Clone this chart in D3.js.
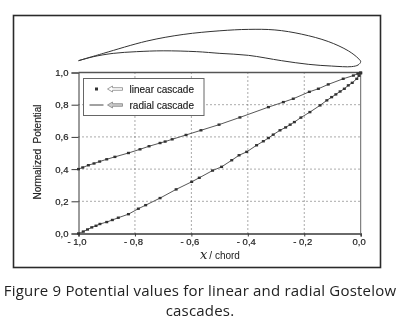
<!DOCTYPE html>
<html>
<head>
<meta charset="utf-8">
<script src="https://cdn.jsdelivr.net/npm/d3@7"></script>
<style>
  html, body { margin: 0; padding: 0; background: #fff; }
  svg { display: block; }
  text { fill: #222; font-family: "Liberation Sans", Arial, sans-serif; }
  .caption { font-family: "Open Sans", sans-serif; font-size: 15px; fill: #222; letter-spacing: 0.2px; }
</style>
</head>
<body>
<div id="chart"></div>
<script>
const xTicks = [-1, -0.8, -0.6, -0.4, -0.2, 0];
const yTicks = [0, 0.2, 0.4, 0.6, 0.8, 1];

// radial cascade
const radialX = [-1, -0.985, -0.965, -0.945, -0.925, -0.9, -0.871, -0.823, -0.782, -0.75, -0.711, -0.693, -0.668, -0.619, -0.566, -0.502, -0.428, -0.327, -0.274, -0.239, -0.182, -0.15, -0.115, -0.062, -0.026, -0.01, 0];
const radialY = [0.4, 0.41, 0.424, 0.435, 0.447, 0.461, 0.476, 0.5, 0.523, 0.542, 0.562, 0.571, 0.585, 0.612, 0.641, 0.676, 0.721, 0.785, 0.816, 0.837, 0.88, 0.899, 0.926, 0.961, 0.981, 0.993, 1];

// linear cascade
const linearX = [-1, -0.983, -0.968, -0.953, -0.938, -0.924, -0.9, -0.88, -0.859, -0.823, -0.788, -0.762, -0.711, -0.654, -0.599, -0.572, -0.525, -0.493, -0.457, -0.431, -0.404, -0.369, -0.345, -0.327, -0.31, -0.286, -0.266, -0.25, -0.235, -0.212, -0.18, -0.144, -0.12, -0.103, -0.088, -0.073, -0.058, -0.044, -0.03, -0.014, -0.006, 0];
const linearY = [0, 0.012, 0.025, 0.038, 0.048, 0.059, 0.071, 0.084, 0.098, 0.12, 0.154, 0.176, 0.22, 0.274, 0.321, 0.346, 0.391, 0.414, 0.455, 0.486, 0.507, 0.548, 0.573, 0.593, 0.614, 0.641, 0.659, 0.676, 0.692, 0.72, 0.754, 0.796, 0.827, 0.847, 0.864, 0.882, 0.899, 0.92, 0.936, 0.961, 0.98, 0.995];

// blade profile, in chord units
const profileX = [-1, -0.912, -0.758, -0.629, -0.499, -0.398, -0.304, -0.209, -0.115, -0.044, -0.009, 0, -0.009, -0.032, -0.103, -0.186, -0.28, -0.398, -0.499, -0.581, -0.7, -0.794, -0.877, -0.948, -1];
const profileY = [0, 0.026, 0.0695, 0.093, 0.106, 0.111, 0.109, 0.094, 0.068, 0.035, 0.0085, -0.0035, -0.015, -0.021, -0.019, -0.0128, 0, 0.019, 0.026, 0.032, 0.035, 0.032, 0.026, 0.014, 0];

const legendLabels = ["linear cascade", "radial cascade"];
const captionLines = ["Figure 9 Potential values for linear and radial Gostelow", "cascades."];

const WIDTH = 410, HEIGHT = 325;
const ink = "#3a3a3a";

const svg = d3.select("#chart").append("svg")
    .attr("width", WIDTH)
    .attr("height", HEIGHT);

// scan softness
svg.append("defs").append("filter")
    .attr("id", "soft")
    .append("feGaussianBlur")
    .attr("stdDeviation", 0.35);

const root = svg.append("g").attr("filter", "url(#soft)");

// outer frame
root.append("rect")
    .attr("x", 13.5)
    .attr("y", 15.5)
    .attr("width", 367)
    .attr("height", 252)
    .attr("fill", "none")
    .attr("stroke", "#2a2a2a")
    .attr("stroke-width", 1.6);

const x = d3.scaleLinear().domain([-1, 0]).range([78.5, 360.7]);
const y = d3.scaleLinear().domain([0, 1]).range([233.5, 72.5]);
const yProfile = d3.scaleLinear().domain([0, 1]).range([60.7, 60.7 - 282.2]);

// gridlines
root.append("g").selectAll("line")
    .data(xTicks.slice(1, -1))
    .join("line")
    .attr("x1", d => x(d)).attr("x2", d => x(d))
    .attr("y1", y(1)).attr("y2", y(0))
    .attr("stroke", "#555")
    .attr("stroke-dasharray", "1 3");

root.append("g").selectAll("line")
    .data(yTicks.slice(1, -1))
    .join("line")
    .attr("x1", x(-1)).attr("x2", x(0))
    .attr("y1", d => y(d)).attr("y2", d => y(d))
    .attr("stroke", "#555")
    .attr("stroke-dasharray", "1 3");

// axes
const xFormat = d => (d < 0 ? "- " : "") + d3.format(".1f")(Math.abs(d)).replace(".", ",");
const yFormat = d => d3.format(".1f")(d).replace(".", ",");

const xAxis = root.append("g")
    .attr("transform", `translate(0, ${y(0)})`)
    .call(d3.axisBottom(x).tickValues(xTicks).tickFormat(xFormat).tickSize(3).tickPadding(2));
const yAxis = root.append("g")
    .attr("transform", `translate(${x(-1)}, 0)`)
    .call(d3.axisLeft(y).tickValues(yTicks).tickFormat(yFormat).tickSize(7).tickPadding(3));

[xAxis, yAxis].forEach(a => {
    a.selectAll("path, line").attr("stroke", ink);
    a.selectAll("text")
        .style("font-size", "9.5px")
        .style("fill", "#222")
        .style("font-family", "Liberation Sans")
        .style("stroke", "#222")
        .style("stroke-width", 0.2);
});
xAxis.select(".domain").attr("stroke-width", 1.4);
xAxis.selectAll("text").attr("dx", -2);

// top and right border of the plot
root.append("line")
    .attr("x1", x(-1)).attr("x2", x(0))
    .attr("y1", y(1)).attr("y2", y(1))
    .attr("stroke", "#555").attr("stroke-width", 1.3);
root.append("line")
    .attr("x1", x(0)).attr("x2", x(0))
    .attr("y1", y(1)).attr("y2", y(0))
    .attr("stroke", "#666");

// axis titles
root.append("text")
    .attr("transform", "translate(41, 152) rotate(-90)")
    .attr("text-anchor", "middle")
    .attr("xml:space", "preserve")
    .style("font-size", "10px")
    .style("stroke", "#222")
    .style("stroke-width", 0.15)
    .text("Normalized  Potential");

const xTitle = root.append("text")
    .attr("x", 200)
    .attr("y", 259)
    .style("font-size", "10px");
xTitle.append("tspan")
    .style("font-family", "DejaVu Serif")
    .style("font-style", "italic")
    .style("font-size", "13px")
    .text("x");
xTitle.append("tspan").attr("dx", 2).text("/ chord");

// curves
const line = d3.line().x(d => x(d[0])).y(d => y(d[1]));
const radial = d3.zip(radialX, radialY);
const linear = d3.zip(linearX, linearY);

[radial, linear].forEach(s => {
    root.append("path")
        .attr("d", line(s))
        .attr("fill", "none")
        .attr("stroke", "#444")
        .attr("stroke-width", 0.9);
    root.append("g").selectAll("rect")
        .data(s)
        .join("rect")
        .attr("x", d => x(d[0]) - 1.5)
        .attr("y", d => y(d[1]) - 1.2)
        .attr("width", 3)
        .attr("height", 2.4)
        .attr("fill", "#333");
});

// blade
root.append("path")
    .attr("d", d3.line().curve(d3.curveCatmullRom.alpha(0.5))
        .x(d => x(d[0])).y(d => yProfile(d[1]))(d3.zip(profileX, profileY)))
    .attr("fill", "none")
    .attr("stroke", "#333")
    .attr("stroke-width", 1);

// legend
const legend = root.append("g").attr("transform", "translate(83.5, 78.5)");
legend.append("rect")
    .attr("width", 120.5)
    .attr("height", 37)
    .attr("fill", "#fff")
    .attr("stroke", "#666");

const arrow = "M0,0 L5,-3 L5,-1.3 L15,-1.3 L15,1.3 L5,1.3 L5,3 Z";
legendLabels.forEach((label, i) => {
    const rowY = 10.5 + i * 16;
    if (i === 0) {
        legend.append("rect")
            .attr("x", 11.5).attr("y", rowY - 1.5)
            .attr("width", 3).attr("height", 3)
            .attr("fill", "#333");
    } else {
        legend.append("line")
            .attr("x1", 6).attr("x2", 20)
            .attr("y1", rowY).attr("y2", rowY)
            .attr("stroke", "#444");
    }
    legend.append("path")
        .attr("transform", `translate(24, ${rowY})`)
        .attr("d", arrow)
        .attr("fill", i === 0 ? "#fff" : "#ccc")
        .attr("stroke", "#777")
        .attr("stroke-width", 0.7);
    legend.append("text")
        .attr("x", 46)
        .attr("y", rowY + 3.5)
        .style("font-size", "10px")
        .style("stroke", "#222")
        .style("stroke-width", 0.15)
        .text(label);
});

// caption
root.selectAll(".caption")
    .data(captionLines)
    .join("text")
    .attr("class", "caption")
    .attr("x", 200)
    .attr("y", (d, i) => 296 + i * 20)
    .attr("text-anchor", "middle")
    .text(d => d);
</script>
</body>
</html>
